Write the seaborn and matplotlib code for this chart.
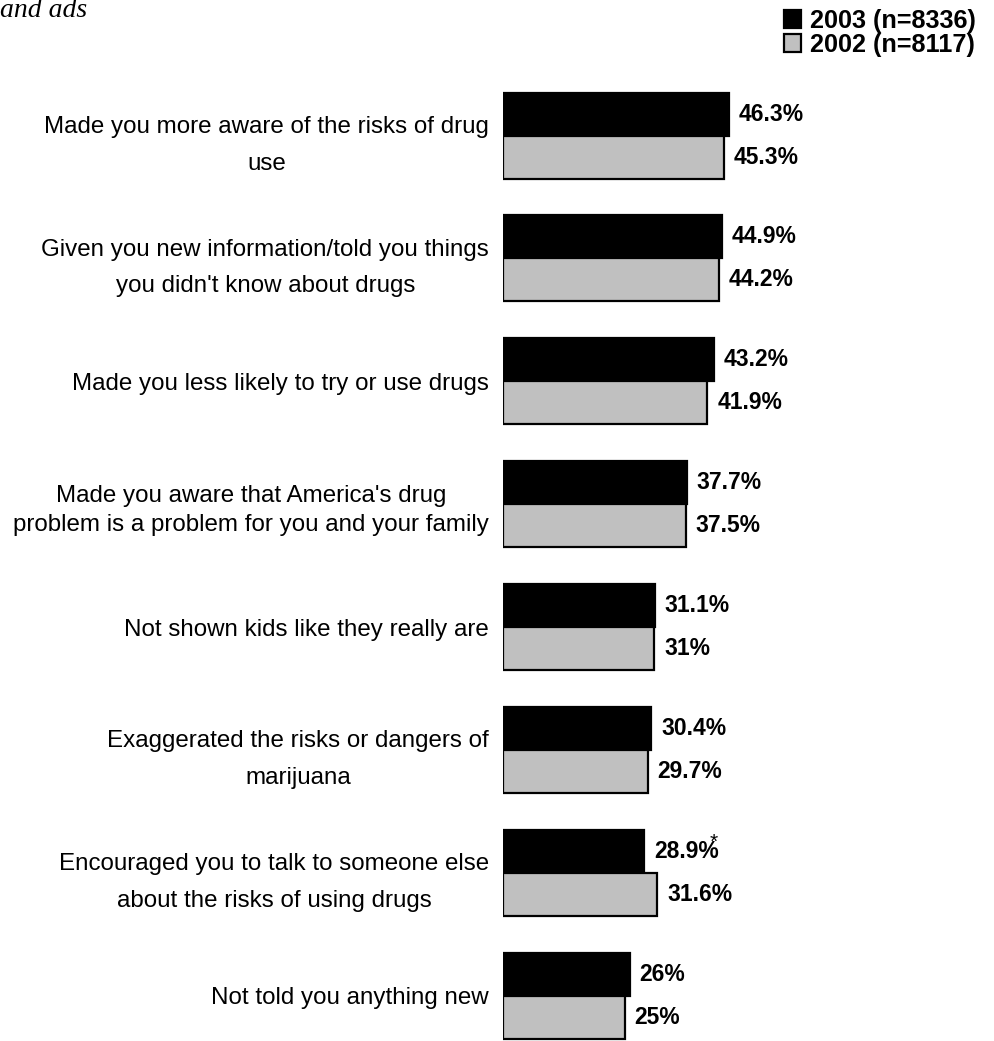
import pandas as pd
import numpy as np
import matplotlib.pyplot as plt
import seaborn as sns

statements = [
    "Made you more aware of the risks of drug\nuse",
    "Given you new information/told you things\nyou didn't know about drugs",
    "Made you less likely to try or use drugs",
    "Made you aware that America's drug\nproblem is a problem for you and your family",
    "Not shown kids like they really are",
    "Exaggerated the risks or dangers of\nmarijuana",
    "Encouraged you to talk to someone else\nabout the risks of using drugs",
    "Not told you anything new",
]
pct_2003 = [46.3, 44.9, 43.2, 37.7, 31.1, 30.4, 28.9, 26]
pct_2002 = [45.3, 44.2, 41.9, 37.5, 31, 29.7, 31.6, 25]
years = ["2003 (n=8336)", "2002 (n=8117)"]

df = pd.DataFrame({
    'statement': statements * 2,
    'pct': pct_2003 + pct_2002,
    'year': [years[0]] * len(statements) + [years[1]] * len(statements),
})

sns.set_style('white')
plt.rcParams['font.family'] = ['Liberation Sans', 'DejaVu Sans']
plt.rcParams['text.color'] = 'black'
plt.rcParams['ytick.color'] = 'black'
plt.rcParams['ytick.labelcolor'] = 'black'

fig = plt.figure(figsize=(9.95, 10.41), dpi=100)
W, H = 995, 1041
# axes placed in pixel terms
ax = fig.add_axes([503 / W, 0, 492 / W, (H - 74.2) / H])

sns.barplot(data=df, x='pct', y='statement', hue='year', hue_order=years,
            palette=['black', '#c0c0c0'], orient='h', width=0.7,
            edgecolor='black', linewidth=1.6, saturation=1, ax=ax)

ax.set_xlim(0, 492 / 4.88)
ax.set_ylim(7.37, -0.5)
ax.set_xlabel('')
ax.set_ylabel('')
ax.set_xticks([])
sns.despine(ax=ax, left=True, bottom=True)
ax.tick_params(axis='y', length=0, pad=10, labelsize=17.4)
for i, lbl in enumerate(ax.get_yticklabels()):
    lbl.set_multialignment('center')
    lbl.set_color('black')
    lbl.set_linespacing(1.45 if i == 3 else 1.85)

# value labels
for cont, vals in zip(ax.containers, [pct_2003, pct_2002]):
    ax.bar_label(cont, labels=[f"{v:g}%" for v in vals], padding=7,
                 fontsize=16.5, fontweight='bold', color='black')

# significance marker
ax.annotate('*', xy=(pct_2003[6], 6 - 0.175), xytext=(69.5, 3),
            textcoords='offset pixels', ha='center', va='baseline', fontsize=15)

ax.legend(loc='upper right', bbox_to_anchor=(976 / W, 1 - 9 / H),
          bbox_transform=fig.transFigure, frameon=False,
          prop={'weight': 'bold', 'size': 18.2}, handlelength=0.7,
          handleheight=0.7, handletextpad=0.35, labelspacing=0.0,
          borderpad=0, borderaxespad=0)

fig.text(87 / W, 1 - 17 / H, "and ads", ha='right', va='baseline',
         family='Liberation Serif', style='italic', fontsize=20)

plt.savefig('out.png', dpi=100)
